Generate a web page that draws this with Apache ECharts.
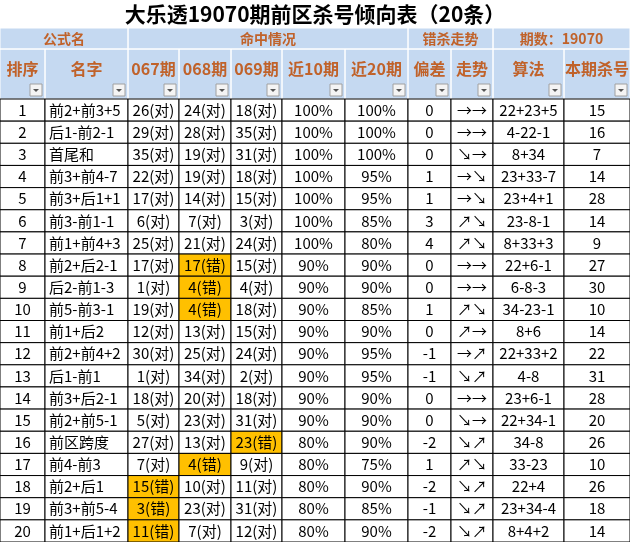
<!DOCTYPE html>
<html><head><meta charset="utf-8">
<script src="https://cdn.jsdelivr.net/npm/echarts@6/dist/echarts.min.js"></script>
<style>html,body{margin:0;padding:0;background:#fff}#main{width:630px;height:542px}</style>
</head><body><div id="main"></div>
<script>
var title = '大乐透19070期前区杀号倾向表（20条）';
var groupHeads = ['公式名', '命中情况', '错杀走势', '期数：19070'];
var colHeads = ['排序', '名字', '067期', '068期', '069期', '近10期', '近20期', '偏差', '走势', '算法', '本期杀号'];
var names = ['前2+前3+5','后1-前2-1','首尾和','前3+前4-7','前3+后1+1','前3-前1-1','前1+前4+3','前2+后2-1','后2-前1-3','前5-前3-1',
  '前1+后2','前2+前4+2','后1-前1','前3+后2-1','前2+前5-1','前区跨度','前4-前3','前2+后1','前3+前5-4','前1+后1+2'];
var p067 = ['26(对)','29(对)','35(对)','22(对)','17(对)','6(对)','25(对)','17(对)','1(对)','19(对)',
  '12(对)','30(对)','1(对)','18(对)','5(对)','27(对)','7(对)','15(错)','3(错)','11(错)'];
var p068 = ['24(对)','28(对)','19(对)','19(对)','14(对)','7(对)','21(对)','17(错)','4(错)','4(错)',
  '13(对)','25(对)','34(对)','20(对)','23(对)','13(对)','4(错)','10(对)','23(对)','7(对)'];
var p069 = ['18(对)','35(对)','31(对)','18(对)','15(对)','3(对)','24(对)','15(对)','4(对)','18(对)',
  '15(对)','24(对)','2(对)','18(对)','31(对)','23(错)','9(对)','11(对)','31(对)','12(对)'];
var recent10 = ['100%','100%','100%','100%','100%','100%','100%','90%','90%','90%',
  '90%','90%','90%','90%','90%','80%','80%','80%','80%','80%'];
var recent20 = ['100%','100%','100%','95%','95%','85%','80%','90%','90%','85%',
  '90%','95%','95%','90%','90%','90%','75%','90%','85%','90%'];
var deviation = ['0','0','0','1','1','3','4','0','0','1','0','-1','-1','0','0','-2','1','-2','-1','-2'];
var trend = ['→→','→→','↘→','→↘','→↘','↗↘','↗↘','→→','→→','↗↘',
  '↗→','→↗','↘↗','→→','↘→','↘↗','↗↘','↘↗','↘↗','↘↗'];
var algo = ['22+23+5','4-22-1','8+34','23+33-7','23+4+1','23-8-1','8+33+3','22+6-1','6-8-3','34-23-1',
  '8+6','22+33+2','4-8','23+6-1','22+34-1','34-8','33-23','22+4','23+34-4','8+4+2'];
var kill = ['15','16','7','14','28','14','9','27','30','10','14','22','31','28','20','26','10','26','18','14'];

var edges = [0, 45, 128, 179, 231, 282, 345, 408, 451, 493, 564, 630];
var groupSpan = [[0, 2], [2, 7], [7, 9], [9, 11]];
var rowLabels = names.map(function (n, i) { return String(i + 1); });
var cols = [rowLabels, names, p067, p068, p069, recent10, recent20, deviation, trend, algo, kill];

var cells = [];
cols.forEach(function (arr, c) {
  arr.forEach(function (t, r) { cells.push([c, r, t]); });
});

var FONT = '"Noto Sans CJK SC", "Noto Sans", sans-serif';
var HEAD_TXT = '#c0622a';
var HEAD_BG = '#c5d9f1';

function renderCell(params, api) {
  var c = api.value(0), r = api.value(1);
  var text = cells[params.dataIndex][2];
  var p0 = api.coord([edges[c], r]);
  var p1 = api.coord([edges[c + 1], r]);
  var h = api.size([0, 1])[1];
  var y = p0[1] - h / 2;
  var isErr = text.indexOf('错') >= 0;
  return {
    type: 'group',
    children: [
      { type: 'rect', shape: { x: p0[0], y: y, width: p1[0] - p0[0], height: h },
        style: { fill: isErr ? '#ffc000' : '#fff', stroke: '#000', lineWidth: 1 } },
      { type: 'text', style: {
          text: text, x: c === 1 ? p0[0] + 4 : (p0[0] + p1[0]) / 2, y: p0[1],
          align: c === 1 ? 'left' : 'center', verticalAlign: 'middle',
          font: '15px ' + FONT, fill: '#000' } }
    ]
  };
}

var graphics = [];
graphics.push({ type: 'rect', shape: { x: 0, y: 28, width: 630, height: 71 }, style: { fill: HEAD_BG } });
graphics.push({ type: 'text', style: { text: title, x: 315, y: 14, align: 'center', verticalAlign: 'middle',
  font: 'bold 21px ' + FONT, fill: '#000' } });
groupSpan.forEach(function (s, i) {
  var x0 = edges[s[0]], x1 = edges[s[1]];
  graphics.push({ type: 'rect', shape: { x: x0, y: 28, width: x1 - x0, height: 21 }, style: { fill: 'none', stroke: '#fff', lineWidth: 1 } });
  graphics.push({ type: 'text', style: { text: groupHeads[i], x: (x0 + x1) / 2, y: 39, align: 'center', verticalAlign: 'middle',
    font: 'bold 14px ' + FONT, fill: HEAD_TXT } });
});
colHeads.forEach(function (t, i) {
  var x0 = edges[i], x1 = edges[i + 1];
  graphics.push({ type: 'rect', shape: { x: x0, y: 49, width: x1 - x0, height: 50 }, style: { fill: 'none', stroke: '#fff', lineWidth: 1 } });
  graphics.push({ type: 'text', style: { text: t, x: (x0 + x1) / 2, y: 69, align: 'center', verticalAlign: 'middle',
    font: 'bold 16px ' + FONT, fill: HEAD_TXT } });
  graphics.push({ type: 'rect', shape: { x: x1 - 15, y: 84, width: 12, height: 12 },
    style: { fill: '#f4f4f4', stroke: '#a0a0a0', lineWidth: 1 } });
  graphics.push({ type: 'polygon', shape: { points: [[x1 - 12, 89], [x1 - 6, 89], [x1 - 9, 92]] }, style: { fill: '#555' } });
});

var chart = echarts.init(document.getElementById('main'));
chart.setOption({
  animation: false,
  grid: { left: 0, right: 0, top: 99, bottom: 0 },
  xAxis: { type: 'value', min: 0, max: 630, show: false },
  yAxis: { type: 'category', data: rowLabels, inverse: true, show: false },
  series: [{ type: 'custom', renderItem: renderCell, data: cells.map(function (d) { return [d[0], d[1]]; }) }],
  graphic: graphics
});
</script></body></html>
